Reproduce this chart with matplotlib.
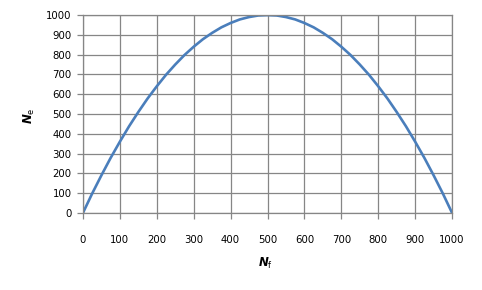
import matplotlib
matplotlib.use("Agg")
import matplotlib.pyplot as plt

# values
nf = [0, 25, 50, 75, 100, 125, 150, 175, 200, 225, 250, 275, 300, 325, 350,
      375, 400, 425, 450, 475, 500, 525, 550, 575, 600, 625, 650, 675, 700,
      725, 750, 775, 800, 825, 850, 875, 900, 925, 950, 975, 1000]
ne = [0, 98, 190, 278, 360, 438, 510, 578, 640, 698, 750, 798, 840, 878, 910,
      938, 960, 978, 990, 998, 1000, 998, 990, 978, 960, 938, 910, 878, 840,
      798, 750, 698, 640, 578, 510, 438, 360, 278, 190, 98, 0]
xticks = list(range(0, 1001, 100))
yticks = list(range(0, 1001, 100))

plt.rcParams['font.family'] = 'DejaVu Sans'
fig = plt.figure(figsize=(4.82, 2.90), dpi=100)
ax = fig.add_axes([0.172, 0.2655, 0.766, 0.6825])

ax.plot(nf, ne, color='#4a7ebb', linewidth=1.9, solid_capstyle='butt')

grid_c = '#868686'
ax.set_xlim(0, 1000)
ax.set_ylim(0, 1000)
ax.set_xticks(xticks)
ax.set_yticks(yticks)
ax.grid(True, color=grid_c, linewidth=0.9)
for s in ax.spines.values():
    s.set_color(grid_c)
    s.set_linewidth(0.9)
ax.tick_params(colors=grid_c, length=4, width=0.9, labelsize=7.3,
               labelcolor='black')
ax.tick_params(axis='x', pad=12)
ax.tick_params(axis='y', pad=4)

fig.text(0.062, 0.60, r'$\mathbfit{N}_\mathrm{e}$', rotation=90,
         ha='center', va='center', fontsize=8.5)
fig.text(0.55, 0.09, r'$\mathbfit{N}_\mathrm{f}$',
         ha='center', va='center', fontsize=8.5)

fig.savefig('out.png', dpi=100)
